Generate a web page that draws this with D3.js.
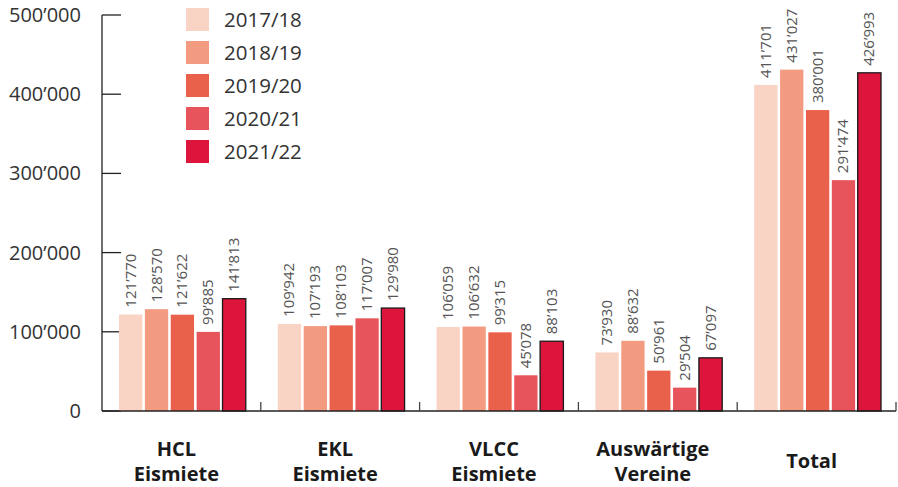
<!DOCTYPE html>
<html>
<head>
<meta charset="utf-8">
<script src="https://cdn.jsdelivr.net/npm/d3@7"></script>
<style>
  body { margin: 0; background: #fff; }
  svg { font-family: "Open Sans", sans-serif; }
</style>
</head>
<body>
<svg id="chart" width="898" height="487"></svg>
<script>
const categories = [["HCL", "Eismiete"], ["EKL", "Eismiete"], ["VLCC", "Eismiete"], ["Auswärtige", "Vereine"], ["Total"]];
const seasons = ["2017/18", "2018/19", "2019/20", "2020/21", "2021/22"];
const colors = ["#F9D3C4", "#F29B80", "#E9614A", "#E8545C", "#DD143B"];

// one array per season, in category order
const s1718 = [121770, 109942, 106059, 73930, 411701];
const s1819 = [128570, 107193, 106632, 88632, 431027];
const s1920 = [121622, 108103, 99315, 50961, 380001];
const s2021 = [99885, 117007, 45078, 29504, 291474];
const s2122 = [141813, 129980, 88103, 67097, 426993];
const series = [s1718, s1819, s1920, s2021, s2122];

const yTicks = [0, 100000, 200000, 300000, 400000, 500000];

const svg = d3.select("#chart");
const mLeft = 102, mRight = 896, mTop = 15, mBottom = 411;

const x0 = d3.scaleBand()
    .domain(d3.range(categories.length))
    .range([mLeft, mRight])
    .paddingInner(0)
    .paddingOuter(0);

const x1 = d3.scaleBand()
    .domain(d3.range(seasons.length))
    .range([17, x0.bandwidth() - 15])
    .paddingInner(0.1);

const y = d3.scaleLinear()
    .domain([0, 500000])
    .range([mBottom, mTop]);

const fmt = v => d3.format(",")(v).replace(/,/g, "’");

// y axis
svg.append("line")
    .attr("x1", mLeft).attr("x2", mLeft)
    .attr("y1", mTop).attr("y2", mBottom)
    .attr("stroke", "#6e6e6e")
    .attr("stroke-width", 2);

yTicks.forEach(t => {
    svg.append("line")
        .attr("x1", mLeft).attr("x2", mLeft + 19)
        .attr("y1", y(t)).attr("y2", y(t))
        .attr("stroke", "#222")
        .attr("stroke-width", 1.3);
    svg.append("text")
        .attr("x", 81)
        .attr("y", y(t))
        .attr("dy", "0.35em")
        .attr("text-anchor", "end")
        .attr("fill", "#333")
        .style("font-size", "20px")
        .text(fmt(t));
});

// bars
categories.forEach((c, ci) => {
    const g = svg.append("g")
        .attr("transform", `translate(${x0(ci)},0)`);

    series.forEach((s, si) => {
        const v = s[ci];
        g.append("rect")
            .attr("x", x1(si))
            .attr("y", y(v))
            .attr("width", x1.bandwidth())
            .attr("height", mBottom - y(v))
            .attr("fill", colors[si])
            .attr("stroke", si === 4 ? "#1a1a1a" : "none")
            .attr("stroke-width", 1.3);

        const cx = x1(si) + x1.bandwidth() / 2;
        g.append("text")
            .attr("transform", `translate(${cx + 5},${y(v) - 7}) rotate(-90)`)
            .attr("fill", "#555")
            .style("font-size", "15px")
            .text(fmt(v));
    });

    const base = c.length === 1 ? 468 : 456;
    c.forEach((l, li) => {
        svg.append("text")
            .attr("x", x0(ci) + x0.bandwidth() / 2 - 5)
            .attr("y", base + li * 25)
            .attr("text-anchor", "middle")
            .attr("fill", "#1a1a1a")
            .style("font-size", "20px")
            .style("font-weight", "bold")
            .text(l);
    });
});

// baseline and group separators
svg.append("line")
    .attr("x1", mLeft).attr("x2", mRight)
    .attr("y1", mBottom).attr("y2", mBottom)
    .attr("stroke", "#222")
    .attr("stroke-width", 1.5);

d3.range(1, categories.length + 1).forEach(i => {
    const xs = i === categories.length ? mRight : x0(i);
    svg.append("line")
        .attr("x1", xs).attr("x2", xs)
        .attr("y1", mBottom).attr("y2", mBottom - 9)
        .attr("stroke", "#444")
        .attr("stroke-width", 1.3);
});

// legend
seasons.forEach((s, i) => {
    svg.append("rect")
        .attr("x", 186)
        .attr("y", 8 + i * 33)
        .attr("width", 23)
        .attr("height", 23)
        .attr("fill", colors[i]);
    svg.append("text")
        .attr("x", 224)
        .attr("y", 20 + i * 33)
        .attr("dy", "0.35em")
        .attr("fill", "#333")
        .style("font-size", "20.5px")
        .text(s);
});
</script>
</body>
</html>
